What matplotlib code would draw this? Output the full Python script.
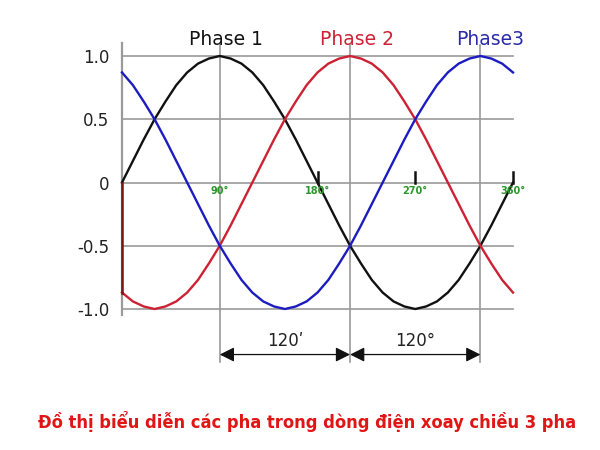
import matplotlib
matplotlib.use('Agg')
import matplotlib.pyplot as plt

# phase angle (degrees) and the three curves
deg = list(range(0, 361, 10))
phase1 = [0, .17, .34, .50, .64, .77, .87, .94, .98, 1.00, .98, .94, .87, .77, .64, .50, .34, .17,
          0, -.17, -.34, -.50, -.64, -.77, -.87, -.94, -.98, -1.00, -.98, -.94, -.87, -.77, -.64, -.50, -.34, -.17, 0]
phase2 = [-.87, -.94, -.98, -1.00, -.98, -.94, -.87, -.77, -.64, -.50, -.34, -.17, 0, .17, .34, .50, .64, .77,
          .87, .94, .98, 1.00, .98, .94, .87, .77, .64, .50, .34, .17, 0, -.17, -.34, -.50, -.64, -.77, -.87]
phase3 = [.87, .77, .64, .50, .34, .17, 0, -.17, -.34, -.50, -.64, -.77, -.87, -.94, -.98, -1.00, -.98, -.94,
          -.87, -.77, -.64, -.50, -.34, -.17, 0, .17, .34, .50, .64, .77, .87, .94, .98, 1.00, .98, .94, .87]

yticks = [1.0, 0.5, 0, -0.5, -1.0]
yticklabels = ['1.0', '0.5', '0', '-0.5', '-1.0']
grid_x = [90, 210, 330]            # peaks of the three phases
deg_marks = [90, 180, 270, 360]
deg_labels = ['90°', '180°', '270°', '360°']
phase_names = ['Phase 1', 'Phase 2', 'Phase3']
phase_name_x = [96, 216, 339]
span_labels = ['120ʹ', '120°']
title = 'Đồ thị biểu diễn các pha trong dòng điện xoay chiều 3 pha'

BLACK = '#111111'
RED = '#cc2233'
BLUE = '#1c1cc0'
GREY = '#9a9a9a'
GREEN = '#2a962a'

fig = plt.figure(figsize=(6, 4.5), dpi=100)
ax = fig.add_axes([122 / 600, 141 / 450, 391 / 600, 253 / 450])
ax.set_xlim(0, 360)
ax.set_ylim(-1, 1)
for s in ax.spines.values():
    s.set_visible(False)
ax.set_xticks([])
ax.set_yticks(yticks)
ax.set_yticklabels(yticklabels, fontsize=12, color='#222222')
ax.tick_params(axis='y', length=0, pad=9)

# grid
for y in yticks:
    ax.plot([0, 360], [y, y], color=GREY, lw=1.2, clip_on=False, zorder=1)
ax.plot([0, 0], [-1.05, 1.1], color=GREY, lw=1.6, clip_on=False, zorder=1)
for x in grid_x:
    ax.plot([x, x], [-1.42, 1.09], color=GREY, lw=1.2, clip_on=False, zorder=1)

# curves
ax.plot(deg, phase1, color=BLACK, lw=1.7, clip_on=False, zorder=3)
ax.plot(deg, phase2, color=RED, lw=1.7, clip_on=False, zorder=3)
ax.plot(deg, phase3, color=BLUE, lw=1.7, clip_on=False, zorder=3)
ax.plot([0, 0], [0, phase2[0]], color='#7a1515', lw=1.8, clip_on=False, zorder=4)

# degree marks on the zero line
for x, lab in zip(deg_marks, deg_labels):
    if x != 90:
        ax.plot([x, x], [0, 0.08], color=BLACK, lw=1.8, clip_on=False, zorder=4)
    ax.text(x, -0.07, lab, color=GREEN, fontsize=7, fontweight='bold',
            ha='center', va='center', zorder=5)

# phase names
for x, name, c in zip(phase_name_x, phase_names, [BLACK, RED, '#2a2aa8']):
    ax.text(x, 1.13, name, color=c, fontsize=13.5, ha='center', va='center')

# 120 degree spans
for (x0, x1), lab in zip([(grid_x[0], grid_x[1]), (grid_x[1], grid_x[2])], span_labels):
    ax.annotate('', xy=(x0, -1.36), xytext=(x1, -1.36),
                arrowprops=dict(arrowstyle='<|-|>', color=BLACK, lw=0.9,
                                mutation_scale=22, shrinkA=0, shrinkB=0),
                annotation_clip=False)
    ax.text((x0 + x1) / 2, -1.25, lab, fontsize=12, ha='center', va='center', color='#222222')

fig.text(0.5125, 0.064, title, color='#e01515', fontsize=13.1, fontweight='bold',
         family='DejaVu Sans', fontstretch='condensed', ha='center', va='center')

fig.savefig('out.png', dpi=100)
